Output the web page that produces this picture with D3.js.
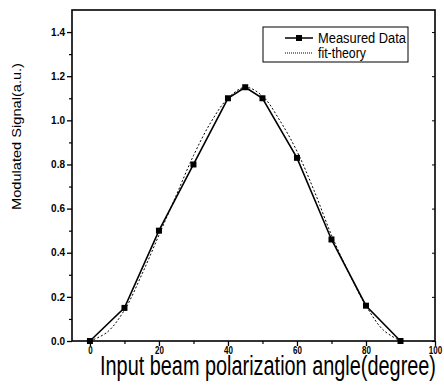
<!DOCTYPE html>
<html>
<head>
<meta charset="utf-8">
<script src="https://cdn.jsdelivr.net/npm/d3@7"></script>
<style>
  body { margin: 0; background: #fff; }
  svg text { font-family: "Liberation Sans", Arial, sans-serif; fill: #000; }
</style>
</head>
<body>
<svg id="Chart"></svg>
<script>
// measured points
const angles = [0, 10, 20, 30, 40, 45, 50, 60, 70, 80, 90];
const measured = [0, 0.15, 0.5, 0.8, 1.1, 1.15, 1.1, 0.83, 0.46, 0.16, 0];

// fit-theory curve
const theoryAngles = [0, 5, 10, 15, 20, 25, 30, 35, 40, 45, 50, 55, 60, 65, 70, 75, 80, 85, 90];
const theoryValues = [0, 0.04, 0.14, 0.3, 0.48, 0.66, 0.84, 0.99, 1.1, 1.15, 1.11, 1.0, 0.86, 0.68, 0.48, 0.31, 0.16, 0.05, 0];

const xTicks = [0, 20, 40, 60, 80, 100];
const yTicks = [0.0, 0.2, 0.4, 0.6, 0.8, 1.0, 1.2, 1.4];

const margin = { top: 10, right: 9, bottom: 44, left: 72 };
const W = 444, H = 385;
const width = W - margin.left - margin.right;
const height = H - margin.top - margin.bottom;

const svg = d3.select('#Chart')
  .attr('width', W)
  .attr('height', H);

const g = svg.append('g')
  .attr('transform', 'translate(' + margin.left + ',' + margin.top + ')');

const x = d3.scaleLinear().domain([-5.2, 100]).range([0, width]);
const y = d3.scaleLinear().domain([0, 1.5]).range([height, 0]);

// theory curve (dotted)
const theoryLine = d3.line()
  .x((d, i) => x(theoryAngles[i]))
  .y(d => y(d))
  .curve(d3.curveCatmullRom);

g.append('path')
  .datum(theoryValues)
  .attr('d', theoryLine)
  .attr('fill', 'none')
  .attr('stroke', '#000')
  .attr('stroke-width', 1)
  .attr('stroke-dasharray', '2,2');

// measured line
const measLine = d3.line()
  .x((d, i) => x(angles[i]))
  .y(d => y(d));

g.append('path')
  .datum(measured)
  .attr('d', measLine)
  .attr('fill', 'none')
  .attr('stroke', '#000')
  .attr('stroke-width', 1.6);

g.selectAll('.dot')
  .data(measured)
  .enter().append('rect')
  .attr('class', 'dot')
  .attr('x', (d, i) => x(angles[i]) - 3)
  .attr('y', d => y(d) - 3)
  .attr('width', 6)
  .attr('height', 6)
  .attr('fill', '#000');

// axes
const xAxis = g.append('g')
  .attr('transform', 'translate(0,' + height + ')')
  .call(d3.axisBottom(x).tickValues(xTicks).tickSize(5).tickPadding(1).tickFormat(d3.format('d')));
xAxis.select('.domain').remove();
xAxis.selectAll('text').style('font-size', '10px').style('font-weight', 'bold')
  .attr('transform', function () { return 'scale(0.8,1)'; })
  .attr('x', function (d) { return 0; });
xAxis.selectAll('line').attr('stroke-width', 1.3);

g.append('g')
  .attr('transform', 'translate(0,' + height + ')')
  .call(d3.axisBottom(x).tickValues([10, 30, 50, 70, 90]).tickSize(3).tickFormat(''))
  .call(a => a.select('.domain').remove())
  .selectAll('line').attr('stroke-width', 1.2);

const yAxis = g.append('g')
  .call(d3.axisLeft(y).tickValues(yTicks).tickSize(5).tickPadding(2).tickFormat(d3.format('.1f')));
yAxis.select('.domain').remove();
yAxis.selectAll('text').style('font-size', '10px').style('font-weight', 'bold');
yAxis.selectAll('line').attr('stroke-width', 1.3);

g.append('g')
  .call(d3.axisLeft(y).tickValues([0.1, 0.3, 0.5, 0.7, 0.9, 1.1, 1.3]).tickSize(3).tickFormat(''))
  .call(a => a.select('.domain').remove())
  .selectAll('line').attr('stroke-width', 1.2);

// right side small ticks
g.append('g')
  .attr('transform', 'translate(' + width + ',0)')
  .call(d3.axisLeft(y).tickValues(yTicks).tickSize(3).tickFormat(''))
  .call(a => a.select('.domain').remove())
  .selectAll('line').attr('stroke-width', 1);

// frame
g.append('rect')
  .attr('x', 0).attr('y', 0)
  .attr('width', width).attr('height', height)
  .attr('fill', 'none')
  .attr('stroke', '#000')
  .attr('stroke-width', 1.6);

// labels
svg.append('text')
  .attr('x', 100)
  .attr('y', 375)
  .attr('textLength', 336)
  .attr('lengthAdjust', 'spacingAndGlyphs')
  .style('font-size', '27px')
  .text('Input beam polarization angle(degree)');

svg.append('text')
  .attr('transform', 'translate(21,210) rotate(-90)')
  .attr('textLength', 147)
  .attr('lengthAdjust', 'spacingAndGlyphs')
  .style('font-size', '13px')
  .text('Modulated Signal(a.u.)');

// legend
const legend = svg.append('g').attr('transform', 'translate(263,27)');
legend.append('rect')
  .attr('width', 145).attr('height', 35)
  .attr('fill', '#fff').attr('stroke', '#000').attr('stroke-width', 1);
legend.append('line')
  .attr('x1', 22).attr('x2', 50).attr('y1', 11).attr('y2', 11)
  .attr('stroke', '#000').attr('stroke-width', 1.5);
legend.append('rect')
  .attr('x', 33).attr('y', 8).attr('width', 6).attr('height', 6).attr('fill', '#000');
legend.append('text').attr('x', 55).attr('y', 16)
  .attr('textLength', 88).attr('lengthAdjust', 'spacingAndGlyphs')
  .style('font-size', '14px').text('Measured Data');
legend.append('line')
  .attr('x1', 22).attr('x2', 50).attr('y1', 26).attr('y2', 26)
  .attr('stroke', '#000').attr('stroke-width', 1).attr('stroke-dasharray', '1,1');
legend.append('text').attr('x', 55).attr('y', 31)
  .attr('textLength', 48).attr('lengthAdjust', 'spacingAndGlyphs')
  .style('font-size', '14px').text('fit-theory');
</script>
</body>
</html>
